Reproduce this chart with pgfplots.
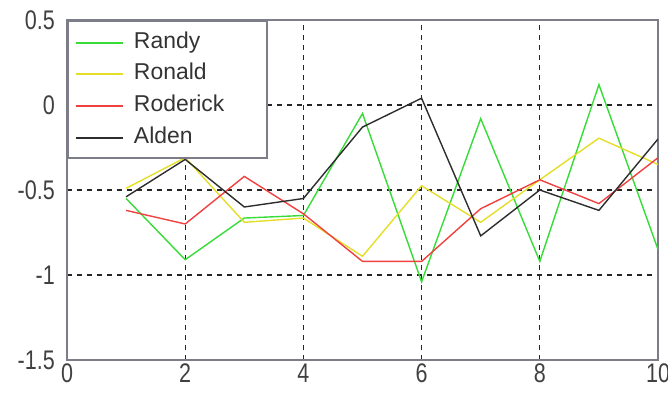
\documentclass[border=0pt]{standalone}
\usepackage{fontspec}
\setmainfont{Liberation Sans}
\newfontfamily\tickfont[FakeStretch=0.8]{Liberation Sans}
\usepackage{pgfplots}
\pgfplotsset{compat=1.18}

\definecolor{cRandy}{RGB}{55,220,55}
\definecolor{cRonald}{RGB}{228,222,40}
\definecolor{cRoderick}{RGB}{240,65,65}
\definecolor{cAlden}{RGB}{45,45,45}
\definecolor{frame}{RGB}{125,125,138}

\begin{document}
\begin{tikzpicture}
\useasboundingbox (-67bp,-34bp) rectangle (601bp,360bp);
\begin{axis}[
  at={(0,0)}, anchor=south west,
  scale only axis, width=591bp, height=340bp,
  xmin=0, xmax=10, ymin=-1.5, ymax=0.5,
  xtick={2,4,6,8}, xticklabels={2,4,6,8},
  ytick={-1,-0.5,0}, yticklabels={-1,-0.5,0},
  extra x ticks={0,10}, extra x tick labels={0,10},
  extra y ticks={-1.5,0.5}, extra y tick labels={-1.5,0.5},
  extra tick style={grid=none},
  grid=major,
  major grid style={dash pattern=on 5bp off 5bp, black!85, line width=1.3bp},
  axis line style={frame, line width=2bp},
  major tick length=0pt,
  ticklabel style={font=\fontsize{27}{30}\selectfont\tickfont, text=black!75, inner sep=0pt},
  xticklabel style={yshift=-4bp},
  yticklabel style={xshift=-12bp},
  legend cell align=left,
  legend image code/.code={\draw[#1, line width=1.8bp] (0bp,-0.5bp) -- (47bp,-0.5bp);},
  legend style={at={(0.0,1.0)}, anchor=north west,
    draw=frame, line width=2.4bp, fill=white,
    font=\fontsize{23}{27}\selectfont, text=black!80,
    inner xsep=7bp, inner ysep=10bp, row sep=9.7bp, column sep=4bp,
    nodes={inner xsep=6bp, inner ysep=0bp, text height=17bp, text depth=5bp}},
  every axis plot/.append style={line width=1.4bp, sharp plot, mark=none},
]
\addplot[cRandy] coordinates {(1,-0.55)(2,-0.91)(3,-0.665)(4,-0.65)(5,-0.05)(6,-1.04)(7,-0.08)(8,-0.92)(9,0.12)(10,-0.85)};
\addlegendentry{\makebox[120bp][l]{Randy}}
\addplot[cRonald] coordinates {(1,-0.49)(2,-0.31)(3,-0.69)(4,-0.665)(5,-0.89)(6,-0.475)(7,-0.69)(8,-0.44)(9,-0.195)(10,-0.35)};
\addlegendentry{Ronald}
\addplot[cRoderick] coordinates {(1,-0.62)(2,-0.70)(3,-0.42)(4,-0.64)(5,-0.92)(6,-0.92)(7,-0.61)(8,-0.44)(9,-0.58)(10,-0.31)};
\addlegendentry{Roderick}
\addplot[cAlden] coordinates {(1,-0.54)(2,-0.32)(3,-0.60)(4,-0.55)(5,-0.13)(6,0.04)(7,-0.77)(8,-0.50)(9,-0.62)(10,-0.20)};
\addlegendentry{Alden}
\end{axis}
\end{tikzpicture}
\end{document}
